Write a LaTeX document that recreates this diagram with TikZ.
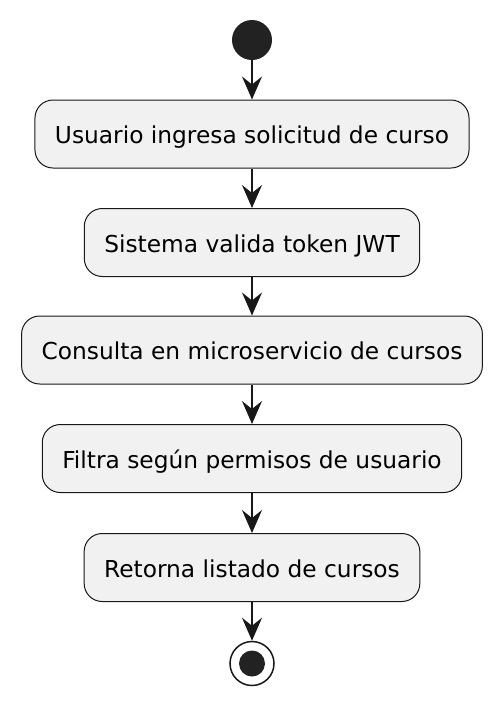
\documentclass[tikz,border=0pt]{standalone}
\usepackage{fontspec}
\setmainfont{DejaVu Sans}
\usetikzlibrary{arrows.meta}
\usepackage{xcolor}

\definecolor{boxfill}{HTML}{F1F1F1}
\definecolor{ink}{HTML}{181818}
\definecolor{dot}{HTML}{222222}

\tikzset{
    activity/.style={draw=ink, line width=1pt, fill=boxfill, rounded corners=18pt,
        minimum height=68pt, inner xsep=20pt, text height=19pt, text depth=0pt,
        font=\fontsize{23.3}{28}\selectfont},
    flow/.style={ink, line width=1.5pt, -{Stealth[length=23pt, width=20pt, inset=8pt]}},
}

\begin{document}
\begin{tikzpicture}[x=1pt, y=1pt]
        \useasboundingbox (0,0) rectangle (502,-705);

        \coordinate (S) at (252,-40);
        \coordinate (A) at (252,-134);
        \coordinate (B) at (252,-242.5);
        \coordinate (C) at (252,-350);
        \coordinate (D) at (252,-458.5);
        \coordinate (E) at (252,-567.5);
        \coordinate (F) at (252,-663.5);

        \node[circle, fill=dot, minimum size=40pt, inner sep=0pt] (start) at (S) {};
        \node[activity] (ingresa) at (A) {Usuario ingresa solicitud de curso};
        \node[activity] (valida) at (B) {Sistema valida token JWT};
        \node[activity] (consulta) at (C) {Consulta en microservicio de cursos};
        \node[activity] (filtra) at (D) {Filtra según permisos de usuario};
        \node[activity] (retorna) at (E) {Retorna listado de cursos};
        \node[circle, draw=ink, line width=1.5pt, fill=white, minimum size=44pt, inner sep=0pt] (stop) at (F) {};
        \fill[dot] (stop.center) circle (13);

        \draw[flow] (start) -- (ingresa);
        \draw[flow] (ingresa) -- (valida);
        \draw[flow] (valida) -- (consulta);
        \draw[flow] (consulta) -- (filtra);
        \draw[flow] (filtra) -- (retorna);
        \draw[flow] (retorna) -- (stop);

    \end{tikzpicture}
\end{document}
